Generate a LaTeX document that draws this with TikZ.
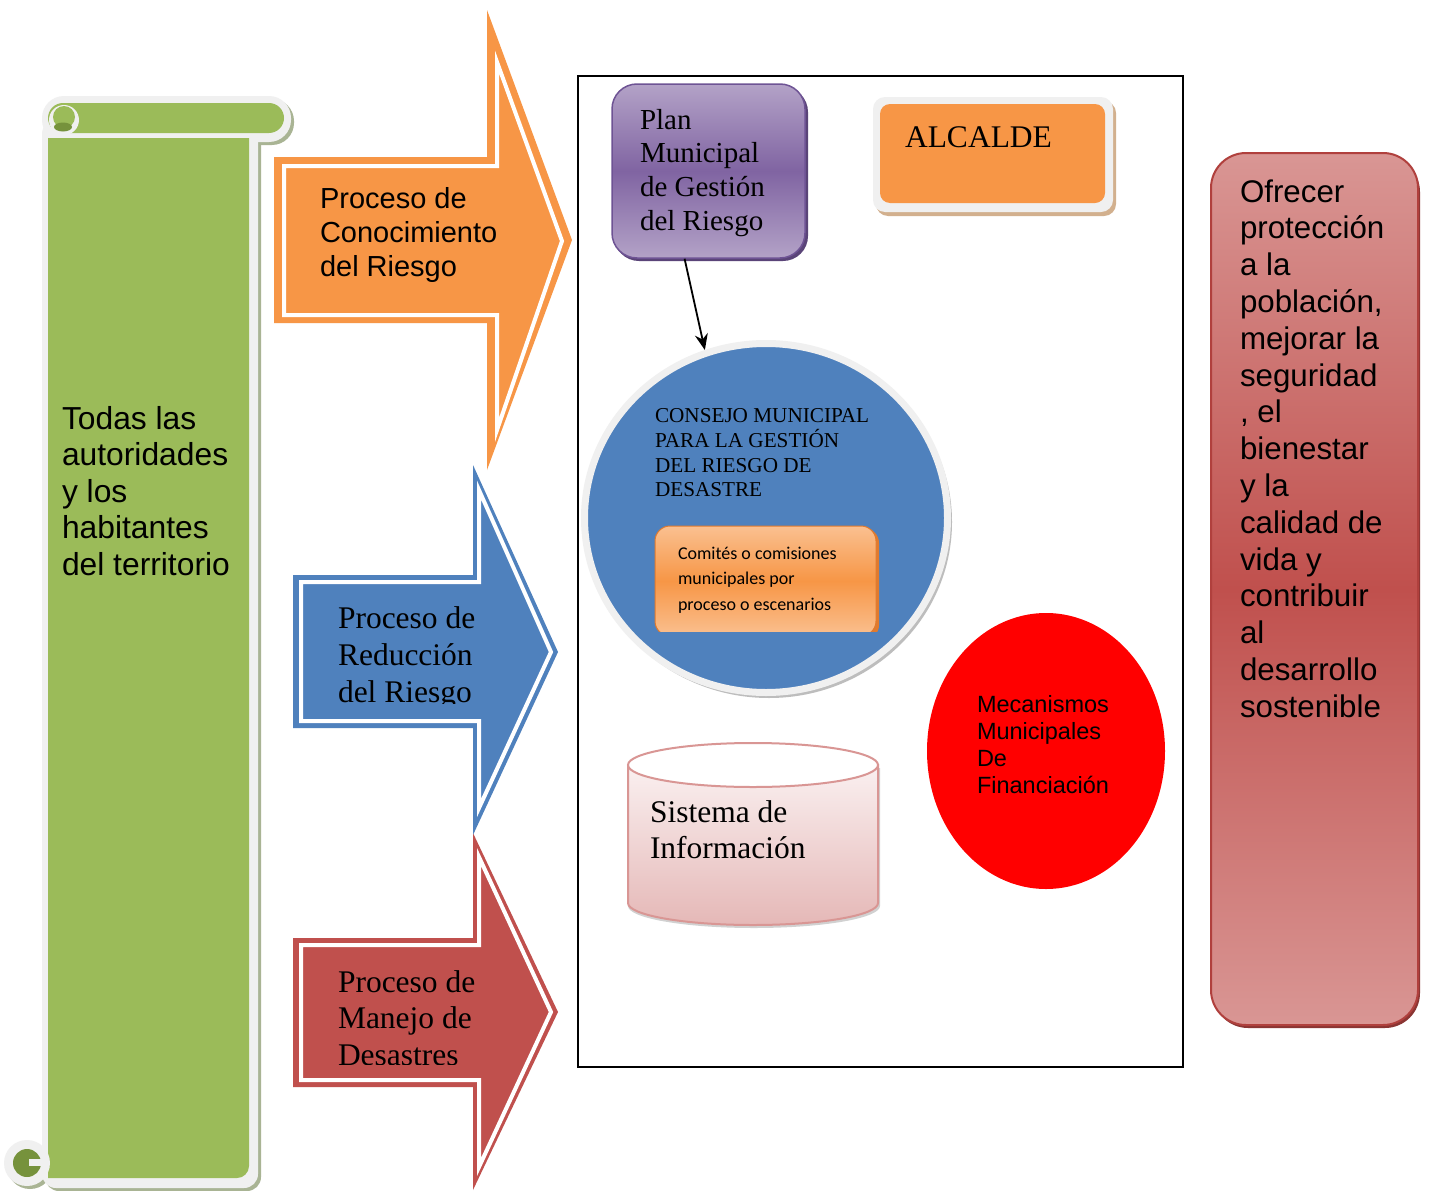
\documentclass[tikz,border=0pt]{standalone}
\usepackage{fontspec}
\setmainfont{Liberation Serif}
\newfontfamily\arialf{Liberation Sans}
\newfontfamily\calibrif{Carlito}
\usetikzlibrary{shapes.geometric,arrows.meta,calc}
\definecolor{sgreen}{HTML}{9BBB59}
\definecolor{sgreendark}{HTML}{76923C}
\definecolor{sgray}{HTML}{F0F0F0}
\definecolor{sshadow}{HTML}{A9B494}
\definecolor{corange}{HTML}{F79646}
\definecolor{corangel}{HTML}{FAC090}
\definecolor{corangedark}{HTML}{E07A2E}
\definecolor{cblue}{HTML}{4F81BD}
\definecolor{cred}{HTML}{C0504D}
\definecolor{credd}{HTML}{B0403D}
\definecolor{rshadow}{HTML}{8A3533}
\definecolor{cpurple}{HTML}{8064A2}
\definecolor{cpurplel}{HTML}{B3A2C7}
\definecolor{cpurpleb}{HTML}{6E5394}
\definecolor{cpurpled}{HTML}{5A4478}
\definecolor{cpink}{HTML}{D99694}
\definecolor{ashadow}{HTML}{D2B08E}
\definecolor{cyltop}{HTML}{FAF0F0}
\definecolor{cylbot}{HTML}{E5B8B7}
\definecolor{ringshadow}{HTML}{BDBDBD}
\newcommand\mylines[1]{\begin{tabular}[t]{@{}l@{}}#1\end{tabular}}
\begin{document}
\begin{tikzpicture}[x=1pt,y=-1pt,
  txt/.style={anchor=base west, inner sep=0pt, outer sep=0pt, text=black},
  whiteline/.style={draw=white, line width=4pt}]
\useasboundingbox (0,0) rectangle (1430,1191);
\fill[white] (0,0) rectangle (1430,1191);

% ---------- scroll ----------
\fill[sshadow, rounded corners=22pt] (45,99) rectangle (294,145);
\fill[sshadow, rounded corners=14pt] (45,120) rectangle (261,1191);
\fill[sshadow] (30,1166) circle (23);
\fill[sgray, rounded corners=22pt] (42,96) rectangle (291,142);
\fill[sgray, rounded corners=14pt] (42,120) rectangle (258,1188);
\fill[sgreen, rounded corners=15pt] (48,103) rectangle (284,133);
\fill[sgreen] (48,138) -- (249,138) -- (249,1166)
   arc[start angle=0, end angle=90, radius=12] -- (48,1178) -- cycle;
\fill[sgray] (64,120) circle (15);
\fill[sgreen] (64,117) circle (11);
\fill[sgreendark] (63,127) ellipse[x radius=9, y radius=4.5];
\fill[sgray] (27,1163) circle (23);
\fill[sgreendark] (27,1163) circle (14);
\fill[sgray] (29,1159) rectangle (43,1166);
\node[txt, font=\arialf\fontsize{31.8pt}{36.5pt}\selectfont] (todas) at (62,429)
  {\mylines{Todas las\\autoridades\\y los\\habitantes\\del territorio}};

% ---------- red arrow ----------
\fill[cred] (293,938) -- (473,938) -- (473,833) -- (558,1012) -- (473,1190) -- (473,1087) -- (293,1087) -- cycle;
\filldraw[fill=cred, whiteline] (301,945) -- (479,945) -- (479,857) -- (551,1012) -- (479,1167) -- (479,1080) -- (301,1080) -- cycle;
\begin{scope}
\clip (290,930) rectangle (560,1064);
\node[txt, font=\fontsize{31.5pt}{36.5pt}\selectfont] (manejo) at (338,992)
  {\mylines{Proceso de\\Manejo de\\Desastres}};
\end{scope}

% ---------- blue arrow ----------
\fill[cblue] (293,575) -- (473,575) -- (473,465) -- (558,652) -- (473,835) -- (473,728) -- (293,728) -- cycle;
\filldraw[fill=cblue, whiteline] (301,582) -- (479,582) -- (479,490) -- (551,652) -- (479,808) -- (479,721) -- (301,721) -- cycle;
\begin{scope}
\clip (290,560) rectangle (560,703);
\node[txt, font=\fontsize{31.5pt}{37pt}\selectfont] (reduccion) at (338,628)
  {\mylines{Proceso de\\Reducción\\del Riesgo}};
\end{scope}

% ---------- orange arrow ----------
\fill[corange] (274,157) -- (487,157) -- (487,10) -- (572,240) -- (487,470) -- (487,323) -- (274,323) -- cycle;
\filldraw[fill=corange, whiteline] (284,166) -- (497,166) -- (497,62) -- (562,241) -- (497,430) -- (497,315) -- (284,315) -- cycle;
\node[txt, font=\arialf\fontsize{29pt}{34pt}\selectfont] (conocimiento) at (320,208)
  {\mylines{Proceso de\\Conocimiento\\del Riesgo}};

% ---------- frame ----------
\draw[line width=1.5pt] (578,76) rectangle (1183,1067);

% ---------- plan ----------
\fill[cpurpled, rounded corners=25pt] (614,87) rectangle (808,261);
\node[draw=cpurpleb, line width=1.5pt, rounded corners=25pt,
  top color=cpurplel, bottom color=cpurplel, middle color=cpurple,
  minimum width=193pt, minimum height=174pt, inner sep=0pt] (plan) at (708.5,171) {};
\node[txt, font=\fontsize{29pt}{33.7pt}\selectfont] (plantext) at (640,129)
  {\mylines{Plan\\Municipal\\de Gestión\\del Riesgo}};

% ---------- alcalde ----------
\fill[ashadow, rounded corners=12pt] (876,101) rectangle (1116,216);
\node[fill=sgray, rounded corners=12pt, minimum width=240pt, minimum height=115pt, inner sep=0pt] (alcaldeframe) at (993,154.5) {};
\node[fill=corange, rounded corners=10pt, minimum width=225pt, minimum height=99pt, inner sep=0pt] (alcalde) at (992.5,153.5) {};
\node[txt, font=\fontsize{31.5pt}{36pt}\selectfont] (alcaldetext) at (905,147) {ALCALDE};

% ---------- consejo ----------
\fill[ringshadow] (769,522) ellipse[x radius=183, y radius=176];
\node[ellipse, fill=cblue, draw=sgray, line width=7pt, minimum width=363pt, minimum height=349pt, inner sep=0pt] (consejo) at (766,518) {};
\node[txt, font=\fontsize{21.2pt}{24.5pt}\selectfont] (consejotext) at (655,422)
  {\mylines{CONSEJO MUNICIPAL\\PARA LA GESTIÓN\\DEL RIESGO DE\\DESASTRE}};
\begin{scope}
\clip (640,510) rectangle (900,631);
\fill[corangedark, rounded corners=15pt] (658,528) rectangle (879,640);
\node[draw=corangedark, line width=1pt, rounded corners=15pt,
  top color=corangel, bottom color=corangel, middle color=corange,
  minimum width=221pt, minimum height=110pt, inner sep=0pt] (comites) at (765.5,581) {};
\end{scope}
\node[txt, font=\calibrif\fontsize{18pt}{25.5pt}\selectfont] (comitestext) at (678,559)
  {\mylines{Comités o comisiones\\municipales por\\proceso o escenarios}};

\draw[line width=1.8pt, -{Stealth[length=16pt, width=13pt]}]
  ($(plan.south west)!0.377!(plan.south east)$) -- (consejo.110);

% ---------- mecanismos ----------
\node[ellipse, fill=red, minimum width=238pt, minimum height=276pt, inner sep=0pt] (mecanismos) at (1046,751) {};
\node[txt, font=\arialf\fontsize{23.5pt}{27pt}\selectfont] (mecanismostext) at (977,712)
  {\mylines{Mecanismos\\Municipales\\De\\Financiación}};

% ---------- sistema (cylinder) ----------
\fill[black!18] (628,768) -- (628,906) arc[start angle=180, end angle=0, x radius=126, y radius=22] -- (880,768) -- cycle;
\draw[draw=cpink, line width=2pt, top color=cyltop, bottom color=cylbot]
  (628,765) -- (628,903) arc[start angle=180, end angle=0, x radius=125, y radius=22] -- (878,765) -- cycle;
\draw[draw=cpink, line width=2pt, fill=white] (753,765) ellipse[x radius=125, y radius=22];
\node[txt, font=\fontsize{31.5pt}{36pt}\selectfont] (sistema) at (650,822)
  {\mylines{Sistema de\\Información}};

% ---------- right box ----------
\fill[rshadow, rounded corners=35pt] (1213,157) rectangle (1420,1028);
\node[draw=credd, line width=2pt, rounded corners=35pt,
  top color=cpink, bottom color=cpink, middle color=cred,
  minimum width=207pt, minimum height=872pt, inner sep=0pt] (goal) at (1314.5,589) {};
\node[txt, font=\arialf\fontsize{31.3pt}{36.8pt}\selectfont] (goaltext) at (1240,202)
  {\mylines{Ofrecer\\protección\\a la\\población,\\mejorar la\\seguridad\\, el\\bienestar\\y la\\calidad de\\vida y\\contribuir\\al\\desarrollo\\sostenible}};
\end{tikzpicture}
\end{document}
